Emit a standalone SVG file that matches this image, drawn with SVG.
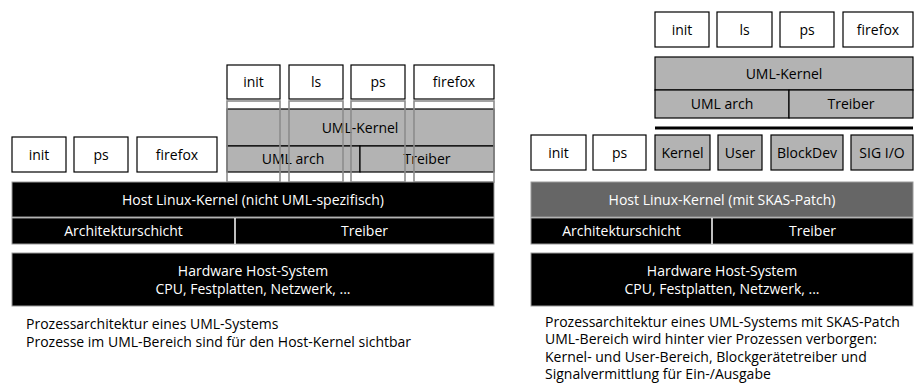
<svg xmlns="http://www.w3.org/2000/svg" width="917" height="383" viewBox="0 0 917 383">
  <style>
    text { font-family: "Open Sans", "Noto Sans", "DejaVu Sans", sans-serif; font-size: 14px; text-anchor: middle; dominant-baseline: central; }
    .proc { fill: #ffffff; stroke: #000000; stroke-width: 1.2; }
    .uml { fill: #b3b3b3; stroke: #000000; stroke-width: 1.2; }
    .host { fill: #000000; stroke: #9a9a9a; stroke-width: 1; }
    .skas { fill: #666666; stroke: #9a9a9a; stroke-width: 1; }
    .sep { stroke: #ffffff; stroke-width: 1.5; }
    .inv { fill: #ffffff; }
    .trace { fill: none; stroke: #8c8c8c; stroke-width: 1.6; }
    .caption { text-anchor: start; dominant-baseline: auto; }
  </style>

  <!-- ===== Left: UML without SKAS ===== -->
  <g id="left-proc-init"><rect class="proc" x="12" y="137" width="54" height="35"/><text x="39" y="154">init</text></g>
  <g id="left-proc-ps"><rect class="proc" x="74" y="137" width="54" height="35"/><text x="101" y="154">ps</text></g>
  <g id="left-proc-firefox"><rect class="proc" x="137" y="137" width="80" height="35"/><text x="177" y="154">firefox</text></g>

  <g id="left-uml-gap"><rect x="227" y="99" width="267" height="83" fill="#ffffff"/></g>
  <g id="left-uml-kernel"><rect class="uml" x="227" y="109" width="267" height="37"/><text x="360" y="127">UML-Kernel</text></g>
  <g id="left-uml-arch"><rect class="uml" x="227" y="146" width="133" height="26"/><text x="293" y="158.5">UML arch</text></g>
  <g id="left-uml-treiber"><rect class="uml" x="360" y="146" width="134" height="26"/><text x="427" y="158.5">Treiber</text></g>

  <g id="left-uml-init"><rect class="proc" x="227" y="65" width="53" height="34"/><text x="253.5" y="81.5">init</text></g>
  <g id="left-uml-ls"><rect class="proc" x="289" y="65" width="54" height="34"/><text x="316" y="81.5">ls</text></g>
  <g id="left-uml-ps"><rect class="proc" x="351" y="65" width="54" height="34"/><text x="378" y="81.5">ps</text></g>
  <g id="left-uml-firefox"><rect class="proc" x="414" y="65" width="80" height="34"/><text x="454" y="81.5">firefox</text></g>

  <!-- process outlines reaching through the UML kernel down to the host kernel -->
  <g id="left-traces">
    <rect class="trace" x="227" y="101" width="53" height="81"/>
    <rect class="trace" x="289" y="101" width="54" height="81"/>
    <rect class="trace" x="351" y="101" width="54" height="81"/>
    <rect class="trace" x="414" y="101" width="80" height="81"/>
  </g>

  <g id="left-host-kernel"><rect class="host" x="12" y="182" width="482" height="35"/><text class="inv" x="253" y="199">Host Linux-Kernel (nicht UML-spezifisch)</text></g>
  <g id="left-host-layers">
    <rect class="host" x="12" y="218" width="482" height="26"/>
    <line class="sep" x1="235" y1="218" x2="235" y2="244"/>
    <text class="inv" x="123.5" y="230.5">Architekturschicht</text>
    <text class="inv" x="364.5" y="230.5">Treiber</text>
  </g>
  <g id="left-hardware">
    <rect class="host" x="12" y="253" width="482" height="53"/>
    <text class="inv" x="253" y="270">Hardware Host-System</text>
    <text class="inv" x="253" y="288">CPU, Festplatten, Netzwerk, ...</text>
  </g>
  <g id="left-caption">
    <text class="caption" x="26" y="329">Prozessarchitektur eines UML-Systems</text>
    <text class="caption" x="26" y="346.5">Prozesse im UML-Bereich sind für den Host-Kernel sichtbar</text>
  </g>

  <!-- ===== Right: UML with SKAS patch ===== -->
  <g id="right-uml-init"><rect class="proc" x="655" y="12" width="54" height="35"/><text x="682" y="29">init</text></g>
  <g id="right-uml-ls"><rect class="proc" x="717" y="12" width="55" height="35"/><text x="744.5" y="29">ls</text></g>
  <g id="right-uml-ps"><rect class="proc" x="780" y="12" width="54" height="35"/><text x="807" y="29">ps</text></g>
  <g id="right-uml-firefox"><rect class="proc" x="843" y="12" width="70" height="35"/><text x="878" y="29">firefox</text></g>

  <g id="right-uml-kernel"><rect class="uml" x="655" y="57" width="258" height="33"/><text x="784" y="73">UML-Kernel</text></g>
  <g id="right-uml-arch"><rect class="uml" x="655" y="90" width="134" height="28"/><text x="722" y="103.5">UML arch</text></g>
  <g id="right-uml-treiber"><rect class="uml" x="789" y="90" width="124" height="28"/><text x="851" y="103.5">Treiber</text></g>

  <g id="right-barrier"><line x1="655" y1="128" x2="913" y2="128" stroke="#000000" stroke-width="3"/></g>

  <g id="right-proc-init"><rect class="proc" x="531" y="135" width="55" height="35"/><text x="558.5" y="152">init</text></g>
  <g id="right-proc-ps"><rect class="proc" x="593" y="135" width="53" height="35"/><text x="619.5" y="152">ps</text></g>
  <g id="right-proc-kernel"><rect class="uml" x="655" y="135" width="55" height="35"/><text x="682.5" y="152">Kernel</text></g>
  <g id="right-proc-user"><rect class="uml" x="718" y="135" width="44" height="35"/><text x="740" y="152">User</text></g>
  <g id="right-proc-blockdev"><rect class="uml" x="771" y="135" width="72" height="35"/><text x="807" y="152">BlockDev</text></g>
  <g id="right-proc-sigio"><rect class="uml" x="851" y="135" width="62" height="35"/><text x="882" y="152">SIG I/O</text></g>

  <g id="right-host-kernel"><rect class="skas" x="531" y="182" width="382" height="35"/><text class="inv" x="722" y="199">Host Linux-Kernel (mit SKAS-Patch)</text></g>
  <g id="right-host-layers">
    <rect class="host" x="531" y="218" width="382" height="26"/>
    <line class="sep" x1="712" y1="218" x2="712" y2="244"/>
    <text class="inv" x="621.5" y="230.5">Architekturschicht</text>
    <text class="inv" x="812.5" y="230.5">Treiber</text>
  </g>
  <g id="right-hardware">
    <rect class="host" x="531" y="253" width="382" height="53"/>
    <text class="inv" x="722" y="270">Hardware Host-System</text>
    <text class="inv" x="722" y="288">CPU, Festplatten, Netzwerk, ...</text>
  </g>
  <g id="right-caption">
    <text class="caption" x="545" y="326.5">Prozessarchitektur eines UML-Systems mit SKAS-Patch</text>
    <text class="caption" x="545" y="344">UML-Bereich wird hinter vier Prozessen verborgen:</text>
    <text class="caption" x="545" y="361.5">Kernel- und User-Bereich, Blockgerätetreiber und</text>
    <text class="caption" x="545" y="379">Signalvermittlung für Ein-/Ausgabe</text>
  </g>
</svg>
